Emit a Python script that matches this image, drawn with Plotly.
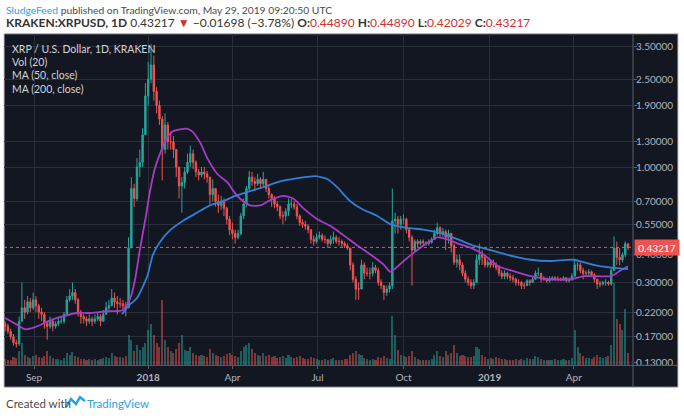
import math
import pandas as pd
import plotly.graph_objects as go

W, H = 684, 420

# ── Data (3-day candles, 2017-08-01 .. 2019-05-29) ──
candle_start = "2017-08-01"
first_open = 0.195
closes = [
    0.19, 0.18, 0.17, 0.16, 0.158, 0.20, 0.23, 0.22, 0.245, 0.23, 0.25,
    0.235, 0.22, 0.215, 0.195, 0.19, 0.20, 0.19, 0.195, 0.20, 0.20,
    0.215, 0.25, 0.26, 0.27, 0.25, 0.22, 0.21, 0.205, 0.20, 0.205,
    0.20, 0.205, 0.21, 0.20, 0.215, 0.23, 0.235, 0.255, 0.245, 0.24,
    0.24, 0.235, 0.23, 0.43, 0.80, 0.72, 1.00, 1.05, 1.40, 2.10,
    2.50, 2.90, 2.20, 1.90, 1.65, 1.20, 1.55, 1.30, 1.30, 1.20,
    1.00, 0.82, 0.85, 0.95, 1.05, 1.15, 1.05, 0.95, 0.92, 0.95,
    0.93, 0.90, 0.75, 0.80, 0.70, 0.67, 0.70, 0.65, 0.58, 0.52,
    0.50, 0.48, 0.50, 0.60, 0.68, 0.80, 0.90, 0.86, 0.84, 0.88, 0.84, 0.88,
    0.80, 0.75, 0.72, 0.68, 0.66, 0.60, 0.60, 0.63, 0.68, 0.68, 0.66, 0.60, 0.56,
    0.55, 0.54, 0.52, 0.47, 0.46, 0.48, 0.49, 0.47, 0.47, 0.45, 0.47, 0.48, 0.46, 0.46, 0.45, 0.44, 0.43,
    0.36, 0.31, 0.28, 0.28, 0.36, 0.33, 0.33, 0.33, 0.35, 0.34, 0.30, 0.29, 0.27, 0.28, 0.29,
    0.57, 0.58, 0.55, 0.58, 0.58, 0.52, 0.48, 0.42, 0.46, 0.45, 0.46, 0.455, 0.45, 0.455, 0.47,
    0.50, 0.53, 0.50, 0.51, 0.48, 0.50, 0.44, 0.37, 0.38, 0.36, 0.33, 0.31, 0.30, 0.29, 0.30, 0.38, 0.40, 0.39, 0.36, 0.37,
    0.36, 0.36, 0.35, 0.33, 0.32, 0.33, 0.32, 0.315, 0.31, 0.30, 0.30, 0.29, 0.29, 0.305, 0.30,
    0.31, 0.33, 0.33, 0.31, 0.31, 0.305, 0.31, 0.315, 0.31, 0.31, 0.31, 0.315, 0.305, 0.31, 0.32,
    0.36, 0.36, 0.34, 0.33, 0.33, 0.335, 0.325, 0.31, 0.295, 0.295, 0.30, 0.30, 0.295, 0.34, 0.43,
    0.39, 0.38, 0.40, 0.4489, 0.43217,
]
highs = [
    0.20, 0.195, 0.185, 0.175, 0.165, 0.21, 0.30, 0.25, 0.26, 0.255, 0.27,
    0.26, 0.24, 0.23, 0.22, 0.20, 0.21, 0.205, 0.20, 0.21, 0.21,
    0.22, 0.26, 0.28, 0.30, 0.28, 0.255, 0.225, 0.215, 0.21, 0.215,
    0.21, 0.215, 0.22, 0.215, 0.225, 0.245, 0.25, 0.28, 0.27, 0.26,
    0.255, 0.25, 0.245, 0.48, 0.90, 0.84, 1.10, 1.20, 1.50, 2.40,
    3.00, 3.60, 3.20, 2.30, 2.00, 1.70, 1.75, 1.60, 1.45, 1.38,
    1.20, 1.00, 0.90, 1.00, 1.15, 1.25, 1.20, 1.07, 0.98, 1.00,
    1.00, 0.96, 0.90, 0.88, 0.80, 0.75, 0.74, 0.72, 0.66, 0.60,
    0.56, 0.52, 0.52, 0.62, 0.72, 0.82, 0.96, 0.95, 0.90, 0.93, 0.90, 0.95,
    0.88, 0.82, 0.76, 0.74, 0.70, 0.67, 0.63, 0.65, 0.72, 0.72, 0.70, 0.68, 0.61,
    0.58, 0.57, 0.55, 0.52, 0.49, 0.50, 0.51, 0.50, 0.49, 0.47, 0.49, 0.51, 0.49, 0.48, 0.47, 0.46, 0.45,
    0.43, 0.37, 0.32, 0.30, 0.38, 0.37, 0.35, 0.35, 0.37, 0.36, 0.35, 0.31, 0.29, 0.29, 0.30,
    0.80, 0.62, 0.60, 0.60, 0.61, 0.59, 0.53, 0.49, 0.47, 0.47, 0.47, 0.47, 0.46, 0.47, 0.48,
    0.52, 0.56, 0.54, 0.53, 0.52, 0.52, 0.50, 0.45, 0.40, 0.40, 0.37, 0.34, 0.32, 0.31, 0.31, 0.40, 0.45, 0.42, 0.40, 0.38,
    0.38, 0.38, 0.37, 0.36, 0.34, 0.34, 0.335, 0.33, 0.325, 0.315, 0.31, 0.305, 0.30, 0.31, 0.31,
    0.32, 0.34, 0.35, 0.33, 0.32, 0.315, 0.32, 0.32, 0.32, 0.32, 0.315, 0.32, 0.315, 0.315, 0.33,
    0.38, 0.37, 0.37, 0.35, 0.34, 0.345, 0.34, 0.33, 0.31, 0.305, 0.305, 0.31, 0.305, 0.35, 0.485,
    0.46, 0.43, 0.41, 0.46, 0.4489,
]
lows = [
    0.18, 0.175, 0.165, 0.155, 0.152, 0.155, 0.20, 0.205, 0.215, 0.22, 0.225,
    0.22, 0.205, 0.20, 0.185, 0.165, 0.185, 0.18, 0.185, 0.19, 0.195,
    0.195, 0.21, 0.245, 0.25, 0.24, 0.21, 0.195, 0.195, 0.19, 0.195,
    0.19, 0.195, 0.20, 0.19, 0.20, 0.215, 0.225, 0.235, 0.23, 0.215,
    0.23, 0.225, 0.21, 0.23, 0.43, 0.66, 0.70, 0.90, 1.00, 1.40,
    1.90, 2.40, 2.00, 1.75, 1.55, 0.87, 1.15, 1.20, 1.20, 1.10,
    0.90, 0.72, 0.62, 0.80, 0.93, 1.00, 0.98, 0.90, 0.87, 0.90,
    0.88, 0.85, 0.68, 0.70, 0.66, 0.62, 0.64, 0.60, 0.55, 0.49,
    0.47, 0.45, 0.47, 0.49, 0.58, 0.66, 0.78, 0.82, 0.78, 0.82, 0.80, 0.82,
    0.77, 0.72, 0.66, 0.65, 0.63, 0.58, 0.55, 0.57, 0.60, 0.65, 0.64, 0.58, 0.54,
    0.53, 0.52, 0.50, 0.45, 0.44, 0.45, 0.47, 0.46, 0.45, 0.43, 0.44, 0.45, 0.45, 0.44, 0.43, 0.43, 0.42,
    0.34, 0.30, 0.25, 0.25, 0.28, 0.31, 0.32, 0.31, 0.32, 0.33, 0.29, 0.28, 0.25, 0.26, 0.27,
    0.28, 0.50, 0.50, 0.52, 0.55, 0.50, 0.46, 0.29, 0.41, 0.43, 0.44, 0.44, 0.44, 0.44, 0.45,
    0.47, 0.49, 0.48, 0.48, 0.42, 0.45, 0.41, 0.36, 0.35, 0.34, 0.32, 0.30, 0.29, 0.28, 0.28, 0.30, 0.36, 0.36, 0.35, 0.35,
    0.35, 0.35, 0.34, 0.32, 0.31, 0.31, 0.31, 0.305, 0.30, 0.29, 0.29, 0.28, 0.28, 0.29, 0.29,
    0.30, 0.31, 0.32, 0.30, 0.305, 0.30, 0.30, 0.305, 0.305, 0.305, 0.305, 0.305, 0.30, 0.30, 0.305,
    0.32, 0.34, 0.33, 0.31, 0.32, 0.32, 0.32, 0.30, 0.28, 0.285, 0.29, 0.29, 0.29, 0.29, 0.34,
    0.36, 0.36, 0.37, 0.39, 0.42029,
]
volumes = [
    6, 5, 5, 8, 7, 14, 22, 10, 8, 7, 9,
    10, 8, 7, 9, 14, 9, 7, 6, 6, 5,
    7, 12, 10, 13, 9, 8, 6, 6, 5, 6,
    5, 6, 5, 6, 7, 8, 7, 12, 9, 8,
    8, 7, 9, 30, 25, 14, 20, 15, 18, 22,
    35, 40, 30, 22, 18, 64, 25, 18, 14, 12,
    16, 22, 30, 15, 14, 18, 12, 10, 9, 10,
    9, 8, 16, 12, 10, 9, 8, 9, 11, 12,
    10, 9, 8, 14, 18, 20, 22, 16, 12, 10, 9, 12,
    9, 10, 8, 9, 7, 8, 9, 7, 10, 8, 7, 8, 9,
    7, 6, 6, 8, 7, 6, 5, 5, 6, 5, 6, 7, 5, 5, 5, 6, 6,
    10, 12, 14, 11, 10, 7, 6, 5, 6, 5, 8, 7, 9, 7, 6,
    48, 30, 15, 10, 9, 8, 9, 14, 8, 6, 5, 5, 5, 5, 6,
    10, 14, 9, 8, 14, 10, 12, 20, 12, 9, 10, 9, 8, 8, 9, 18, 16, 10, 8, 6,
    7, 6, 8, 7, 6, 6, 5, 5, 5, 6, 5, 6, 5, 7, 6,
    6, 9, 8, 6, 5, 5, 5, 5, 6, 5, 5, 6, 5, 5, 7,
    35, 18, 12, 9, 7, 7, 6, 8, 10, 8, 7, 8, 9, 20, 80,
    45, 40, 35, 55, 12,
]

ma50_dates = [
    "2017-08-01", "2017-08-12", "2017-08-22", "2017-09-02", "2017-09-18", "2017-10-04",
    "2017-10-17", "2017-10-31", "2017-11-18", "2017-12-05", "2017-12-13", "2017-12-18",
    "2017-12-23", "2017-12-29", "2018-01-03", "2018-01-08", "2018-01-14", "2018-01-21",
    "2018-01-27", "2018-02-04", "2018-02-12", "2018-02-17", "2018-02-26", "2018-03-05",
    "2018-03-16", "2018-03-27", "2018-04-02", "2018-04-09", "2018-04-20", "2018-05-01",
    "2018-05-12", "2018-05-26", "2018-06-05", "2018-06-16", "2018-07-01", "2018-07-15",
    "2018-07-29", "2018-08-13", "2018-08-27", "2018-09-10", "2018-09-17", "2018-09-28",
    "2018-10-09", "2018-10-22", "2018-11-06", "2018-11-17", "2018-11-28", "2018-12-12",
    "2018-12-26", "2019-01-10", "2019-01-24", "2019-02-14", "2019-03-07", "2019-03-29",
    "2019-04-12", "2019-04-27", "2019-05-11", "2019-05-21", "2019-05-29",
]
ma50_vals = [
    0.207, 0.195, 0.184, 0.188, 0.202, 0.212,
    0.218, 0.218, 0.222, 0.225, 0.255, 0.31,
    0.42, 0.58, 0.78, 0.98, 1.16, 1.36,
    1.45, 1.48, 1.49, 1.45, 1.28, 1.10,
    0.93, 0.85, 0.78, 0.72, 0.67, 0.67,
    0.71, 0.74, 0.72, 0.65, 0.58, 0.54,
    0.49, 0.44, 0.40, 0.36, 0.335, 0.365,
    0.40, 0.44, 0.48, 0.47, 0.45, 0.43,
    0.40, 0.355, 0.34, 0.32, 0.31, 0.31,
    0.32, 0.32, 0.32, 0.34, 0.355,
]
ma200_dates = [
    "2017-12-04", "2017-12-11", "2017-12-20", "2017-12-31", "2018-01-06", "2018-01-14",
    "2018-01-25", "2018-02-07", "2018-02-22", "2018-03-08", "2018-03-22", "2018-04-04",
    "2018-04-17", "2018-05-04", "2018-05-22", "2018-06-10", "2018-06-29", "2018-07-12",
    "2018-07-22", "2018-08-05", "2018-08-19", "2018-09-03", "2018-09-17", "2018-10-05",
    "2018-10-22", "2018-11-10", "2018-11-28", "2018-12-15", "2019-01-02", "2019-01-20",
    "2019-02-14", "2019-03-07", "2019-04-01", "2019-04-22", "2019-05-11", "2019-05-29",
]
ma200_vals = [
    0.215, 0.235, 0.255, 0.32, 0.40, 0.46,
    0.52, 0.57, 0.62, 0.67, 0.70, 0.74,
    0.77, 0.81, 0.86, 0.89, 0.91, 0.88,
    0.81, 0.70, 0.64, 0.60, 0.55, 0.53,
    0.52, 0.50, 0.47, 0.44, 0.42, 0.40,
    0.38, 0.375, 0.38, 0.36, 0.35, 0.345,
]

price_ticks = [3.5, 2.5, 1.9, 1.3, 1.0, 0.7, 0.55, 0.4, 0.3, 0.22, 0.17, 0.13]
date_ticks = ["2017-09-01", "2018-01-01", "2018-04-01", "2018-07-01",
              "2018-10-01", "2019-01-01", "2019-04-01"]
date_labels = ["Sep", "<b>2018</b>", "Apr", "Jul", "Oct", "<b>2019</b>", "Apr"]

# ── Theme ──
BG = "#131722"
GRID = "#2b2f3b"
AXIS_TXT = "#b2b5be"
SEP = "#5d606b"
UP, DOWN = "#26a69a", "#ef5350"
RED = "#d32f2f"
BLUE_TXT = "#2e9ee6"
FONT = "Lato"


def px(x):
    return x / W


def py(y):
    return 1 - y / H


dates = pd.date_range(candle_start, periods=len(closes), freq="3D")
opens = [first_open] + closes[:-1]
vol_colors = ["rgba(38,166,154,0.5)" if c >= o else "rgba(239,83,80,0.5)"
              for o, c in zip(opens, closes)]
last = closes[-1]

fig = go.Figure()
fig.add_trace(go.Bar(x=dates, y=volumes, marker_color=vol_colors, marker_line_width=0,
                     width=2.2 * 86400000, yaxis="y", showlegend=False))
fig.add_trace(go.Candlestick(
    x=dates, open=opens, high=highs, low=lows, close=closes, yaxis="y2",
    increasing=dict(line=dict(color=UP, width=1), fillcolor=UP),
    decreasing=dict(line=dict(color=DOWN, width=1), fillcolor=DOWN),
    whiskerwidth=0, showlegend=False))
fig.add_trace(go.Scatter(x=ma50_dates, y=ma50_vals, mode="lines", yaxis="y2",
                         line=dict(color="#a53cc6", width=1.8, shape="spline", smoothing=0.6),
                         showlegend=False))
fig.add_trace(go.Scatter(x=ma200_dates, y=ma200_vals, mode="lines", yaxis="y2",
                         line=dict(color="#2f80d6", width=1.8, shape="spline", smoothing=0.6),
                         showlegend=False))

fig.update_layout(
    width=W, height=H, margin=dict(l=0, r=0, t=0, b=0),
    paper_bgcolor="white", plot_bgcolor=BG,
    font=dict(family=FONT, size=11, color=AXIS_TXT),
    bargap=0,
    xaxis=dict(domain=[px(4), px(633)], type="date",
               range=["2017-07-30 20:00", "2019-06-03 07:00"],
               tickvals=date_ticks, ticktext=date_labels,
               showgrid=True, gridcolor=GRID, gridwidth=1, zeroline=False,
               ticks="outside", ticklen=3, tickcolor=SEP,
               tickfont=dict(size=10, color=AXIS_TXT),
               rangeslider=dict(visible=False), fixedrange=True),
    yaxis=dict(domain=[py(368), py(34)], range=[0, 322], visible=False,
               showgrid=False, fixedrange=True),
    yaxis2=dict(overlaying="y", side="right", anchor="x", type="log",
                range=[math.log10(0.1262), math.log10(4.018)],
                tickvals=price_ticks, tickformat=".5f",
                showgrid=True, gridcolor=GRID, gridwidth=1, zeroline=False,
                ticks="outside", ticklen=3, tickcolor=SEP, ticklabelstandoff=-3,
                tickfont=dict(size=10, color=AXIS_TXT), fixedrange=True),
)

# frame, axis separators, last-price line
fig.add_shape(type="rect", xref="paper", yref="paper", x0=px(4), x1=px(678),
              y0=py(390), y1=py(34), fillcolor=BG, line=dict(color="#c4c4c4", width=1),
              layer="below")
fig.add_shape(type="line", xref="paper", yref="paper", x0=px(633), x1=px(633),
              y0=py(390), y1=py(34), line=dict(color=SEP, width=1))
fig.add_shape(type="line", xref="paper", yref="paper", x0=px(4), x1=px(678),
              y0=py(368), y1=py(368), line=dict(color=SEP, width=1))
fig.add_shape(type="line", xref="x domain", yref="y2", x0=0, x1=1, y0=last, y1=last,
              line=dict(color=DOWN, width=1, dash="dot"))
fig.add_annotation(xref="paper", yref="y2", x=px(634), y=math.log10(last),
                   xanchor="left", yanchor="middle", text=f"{last:.5f}", showarrow=False,
                   bgcolor=DOWN, width=42, height=13, borderpad=1,
                   font=dict(family=FONT, size=10, color="white"))

# header
fig.add_annotation(
    xref="paper", yref="paper", x=px(4), y=py(10), xanchor="left", yanchor="middle",
    showarrow=False, font=dict(family=FONT, size=10.3, color="#4a4a4a"),
    text=f'<span style="color:{BLUE_TXT}">SludgeFeed</span> published on TradingView.com, '
         'May 29, 2019 09:20:50 UTC')
fig.add_annotation(
    xref="paper", yref="paper", x=px(4), y=py(23), xanchor="left", yanchor="middle",
    showarrow=False, font=dict(family=FONT, size=12, color="#333333"),
    text=(f'<b>KRAKEN:XRPUSD, 1D</b> 0.43217 <span style="color:{RED}">▼</span> '
          f'−0.01698 (−3.78%) '
          f'<b>O:</b><span style="color:{RED}">0.44890</span> '
          f'<b>H:</b><span style="color:{RED}">0.44890</span> '
          f'<b>L:</b><span style="color:{RED}">0.42029</span> '
          f'<b>C:</b><span style="color:{RED}">0.43217</span>'))

# in-chart legend
for text, y in [("XRP / U.S. Dollar, 1D, KRAKEN", 49), ("Vol (20)", 62),
                ("MA (50, close)", 76), ("MA (200, close)", 90)]:
    fig.add_annotation(xref="paper", yref="paper", x=px(10), y=py(y), xanchor="left",
                       yanchor="middle", showarrow=False, text=text,
                       font=dict(family=FONT, size=10.5, color="#d1d4dc"))

# footer
fig.add_annotation(xref="paper", yref="paper", x=px(4), y=py(406), xanchor="left",
                   yanchor="middle", showarrow=False, text="Created with",
                   font=dict(family=FONT, size=11.5, color="#4a4a4a"))
fig.add_annotation(xref="paper", yref="paper", x=px(85), y=py(406), xanchor="left",
                   yanchor="middle", showarrow=False, text="TradingView",
                   font=dict(family=FONT, size=11.5, color=BLUE_TXT))
logo = [(66, 410), (71, 402), (76, 407), (80, 400), (85, 404)]
path = "M " + " L ".join(f"{px(x):.4f},{py(y):.4f}" for x, y in logo)
fig.add_shape(type="path", xref="paper", yref="paper", path=path,
              line=dict(color=BLUE_TXT, width=2.5))

fig.write_html("out.html", config={"displayModeBar": False},
               post_script="document.body.style.margin='0';")
